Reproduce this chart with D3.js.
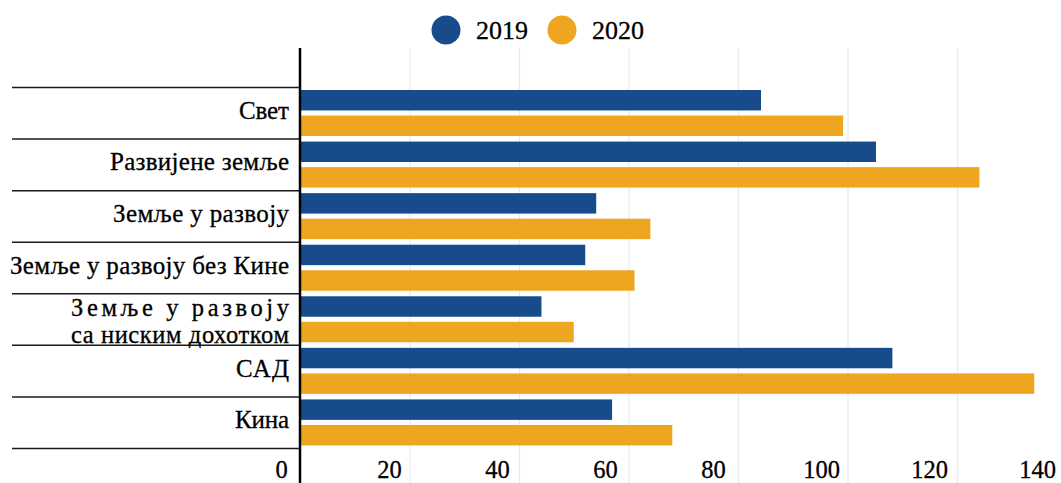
<!DOCTYPE html>
<html>
<head>
<meta charset="utf-8">
<script src="https://cdn.jsdelivr.net/npm/d3@7"></script>
<style>
  html, body { margin: 0; padding: 0; background: #ffffff; }
  svg { display: block; }
</style>
</head>
<body>
<svg id="chart" width="1061" height="483"></svg>
<script>
// ---- data ----
const categories = [
  "Свет",
  "Развијене земље",
  "Земље у развоју",
  "Земље у развоју без Кине",
  "Земље у развоју са ниским дохотком",
  "САД",
  "Кина"
];
const series = ["2019", "2020"];
const values2019 = [84.2, 105.2, 54.1, 52.1, 44.1, 108.2, 57.0];
const values2020 = [99.2, 124.1, 64.0, 61.1, 50.0, 134.1, 68.0];
const tickValues = [0, 20, 40, 60, 80, 100, 120, 140];

// ---- layout ----
const W = 1061, H = 483;
const FONT = "'Liberation Serif', 'Times New Roman', Times, 'DejaVu Serif', serif";
const colors = { "2019": "#174b8b", "2020": "#eea620" };
const labelLines = {
  "Земље у развоју са ниским дохотком": ["Земље у развоју", "са ниским дохотком"]
};
const labelWidths = {
  "Свет": 50, "Развијене земље": 179, "Земље у развоју": 176,
  "Земље у развоју без Кине": 279, "САД": 53, "Кина": 54,
  "Земље у развоју|0": 218, "са ниским дохотком|1": 218
};

const rows = categories.map((c, i) => ({ cat: c, "2019": values2019[i], "2020": values2020[i] }));

const svg = d3.select("#chart");

const x = d3.scaleLinear().domain([0, 140]).range([300, 1066.5]);
const xLabel = d3.scaleLinear().domain([0, 140]).range([281, 1037]);
const y = d3.scaleBand().domain(categories).range([87.5, 448.5]);
const ySub = d3.scaleBand().domain(series).range([2.5, 48.5]).paddingInner(0.2);

// gridlines
const grid = svg.append("g").attr("transform", `translate(0,${H})`)
  .call(d3.axisBottom(x).tickValues(tickValues.filter(v => v > 0)).tickSize(-(H - 48)).tickFormat(""));
grid.select(".domain").remove();
grid.selectAll("line").attr("stroke", "#e9e9ec").attr("stroke-width", 1.2);

// bars
const groups = svg.append("g").selectAll("g").data(rows).join("g")
  .attr("transform", d => `translate(0,${y(d.cat)})`);
groups.selectAll("rect").data(d => series.map(s => ({ s, v: d[s] }))).join("rect")
  .attr("x", x(0))
  .attr("y", d => ySub(d.s))
  .attr("width", d => x(d.v) - x(0))
  .attr("height", ySub.bandwidth())
  .attr("fill", d => colors[d.s]);

// row separators
const bounds = categories.map(c => y(c)).concat([y.range()[1]]);
svg.append("g").selectAll("line").data(bounds).join("line")
  .attr("x1", 12).attr("x2", 300)
  .attr("y1", d => d).attr("y2", d => d)
  .attr("stroke", "#1a1a1a").attr("stroke-width", 1.5);

// category labels
const lab = svg.append("g");
function addLabel(t, yy, w, size) {
  lab.append("text")
    .attr("x", 289).attr("y", yy)
    .attr("text-anchor", "end")
    .style("font-family", FONT)
    .style("font-size", size + "px")
    .attr("fill", "#000")
    .attr("stroke", "#000").attr("stroke-width", 0.3)
    .attr("textLength", w)
    .attr("lengthAdjust", "spacing")
    .text(t);
}
categories.forEach(c => {
  const cy = y(c) + y.bandwidth() / 2;
  const lines = labelLines[c];
  if (lines) {
    lines.forEach((t, k) => addLabel(t, k === 0 ? 315.5 : 342.5, labelWidths[t + "|" + k], 24.5));
  } else {
    addLabel(c, cy + 5.5, labelWidths[c], 25);
  }
});

// axis tick labels
const ax = svg.append("g").attr("transform", "translate(0,478)")
  .call(d3.axisBottom(xLabel).tickValues(tickValues).tickSize(0).tickFormat(d3.format("d")));
ax.attr("font-family", null);
ax.select(".domain").remove();
ax.selectAll("text")
  .attr("y", 0).attr("dy", 0)
  .style("font-family", FONT)
  .style("font-size", "24.5px")
  .attr("fill", "#000")
  .attr("stroke", "#000").attr("stroke-width", 0.3);

// vertical axis line
svg.append("line")
  .attr("x1", x(0)).attr("x2", x(0))
  .attr("y1", 48).attr("y2", H)
  .attr("stroke", "#000").attr("stroke-width", 2.5);

// legend
const legendPos = { "2019": 446, "2020": 562 };
const leg = svg.append("g");
series.forEach(s => {
  leg.append("circle").attr("cx", legendPos[s]).attr("cy", 30).attr("r", 14.5).attr("fill", colors[s]);
  leg.append("text").attr("x", legendPos[s] + 30).attr("y", 39)
    .style("font-family", FONT)
    .style("font-size", "26px")
    .attr("fill", "#000")
    .attr("stroke", "#000").attr("stroke-width", 0.3)
    .text(s);
});
</script>
</body>
</html>
